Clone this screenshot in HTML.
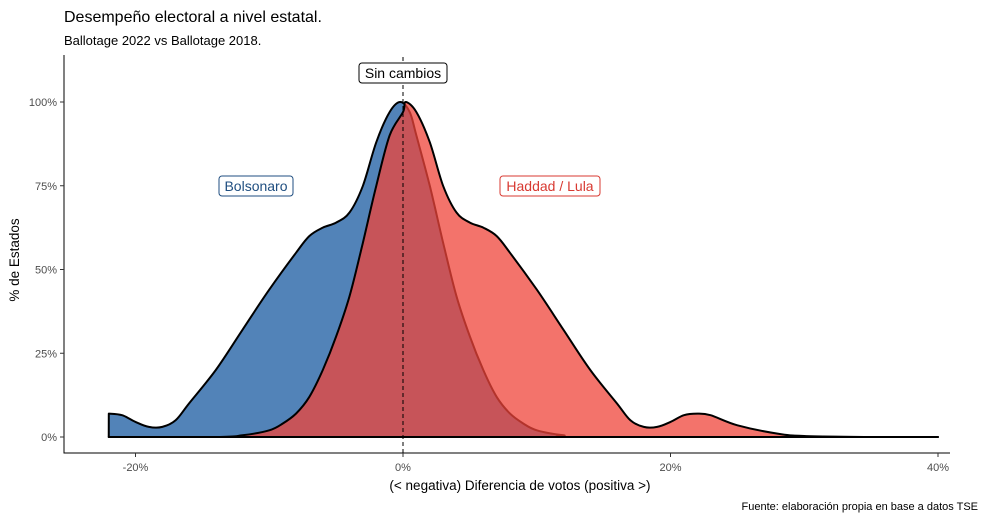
<!DOCTYPE html>
<html><head><meta charset="utf-8"><style>
body{margin:0;background:#fff;}
svg{display:block;font-family:"Liberation Sans",sans-serif;}
</style></head><body>
<svg id="chart" width="986" height="519" viewBox="0 0 986 519">
<text x="64" y="22" font-size="16" fill="#000">Desempeño electoral a nivel estatal.</text>
<text x="64" y="45" font-size="13" fill="#000">Ballotage 2022 vs Ballotage 2018.</text>
<g id="plot"></g>
<text x="520" y="490" font-size="13.5" text-anchor="middle" fill="#000">(&lt; negativa) Diferencia de votos (positiva &gt;)</text>
<text x="19" y="260" font-size="13.5" text-anchor="middle" fill="#000" transform="rotate(-90 19 260)">% de Estados</text>
<text x="978" y="510" font-size="11" text-anchor="end" fill="#000">Fuente: elaboración propia en base a datos TSE</text>
</svg>
<script>
const blueX=[-22,-21,-20,-19,-18,-17,-16,-14,-12,-10,-8,-7,-6,-5,-4,-3,-2,-1,-0.2,0.5,1,2,3,4,5,6,7,8,9,10,12,14,40];
const blueY=[7,6.5,4.5,3,3,5,10,20,32,44,55,60,62.5,64,67,75,88,97,100,97,90,75,58,42,30,20,12,7,4,2,0.5,0,0];
const redX=[-22,-14,-12,-10,-9,-8,-7,-6,-5,-4,-3,-2,-1,0,0.2,1,2,3,4,5,6,7,8,10,12,14,16,17,18,19,20,21,22,23,25,28,30,35,40];
const redY=[0,0,0.5,2,4,7,12,20,30,42,58,75,90,97,100,97,88,75,67,64,62.5,60,55,44,32,20,10,5,3,3,4.5,6.5,7,6.5,3.5,1,0.3,0,0];
const xTicks=[-20,0,20,40];
const yTicks=[0,25,50,75,100];
const xs=v=>403+v*13.375, ys=v=>437-v*3.35;
const ns="http://www.w3.org/2000/svg", g=document.getElementById('plot');
function mk(t,a){const e=document.createElementNS(ns,t);for(const k in a)e.setAttribute(k,a[k]);g.appendChild(e);return e;}
function area(X,Y){
 const P=X.map((x,i)=>[xs(x),ys(Y[i])]);
 let d='M'+P[0][0]+','+ys(0)+'L'+P[0][0].toFixed(1)+','+P[0][1].toFixed(1);
 for(let i=0;i<P.length-1;i++){
  const p0=P[Math.max(0,i-1)],p1=P[i],p2=P[i+1],p3=P[Math.min(P.length-1,i+2)];
  let c1y=p1[1]+(p2[1]-p0[1])/6, c2y=p2[1]-(p3[1]-p1[1])/6;
  const c1x=p1[0]+(p2[0]-p0[0])/6, c2x=p2[0]-(p3[0]-p1[0])/6;
  c1y=Math.min(c1y,ys(0)); c2y=Math.min(c2y,ys(0));
  d+='C'+c1x.toFixed(1)+','+c1y.toFixed(1)+' '+c2x.toFixed(1)+','+c2y.toFixed(1)+' '+p2[0].toFixed(1)+','+p2[1].toFixed(1);
 }
 return d+'L'+P[P.length-1][0]+','+ys(0)+'Z';
}
const b=mk('path',{d:area(blueX,blueY),fill:'#5283b8',stroke:'#000','stroke-width':2,'stroke-linejoin':'round'});


const r=mk('path',{d:area(redX,redY),fill:'#ef443a','fill-opacity':0.75,stroke:'#000','stroke-width':2,'stroke-linejoin':'round'});


const ax=mk('path',{d:'M64,55V453H950',fill:'none',stroke:'#000','stroke-width':1});


xTicks.forEach(t=>{
 const l=mk('line',{x1:xs(t),x2:xs(t),y1:453,y2:457,stroke:'#333'});
 
 
 const tx=mk('text',{x:xs(t),y:471,'font-size':11,'text-anchor':'middle',fill:'#4d4d4d'});tx.textContent=t+'%';
 
 
});
yTicks.forEach(t=>{
 const l=mk('line',{x1:60,x2:64,y1:ys(t),y2:ys(t),stroke:'#333'});
 
 
 const tx=mk('text',{x:57,y:ys(t)+4,'font-size':11,'text-anchor':'end',fill:'#4d4d4d'});tx.textContent=t+'%';
 
 
});
const dl=mk('line',{x1:xs(0),x2:xs(0),y1:57,y2:453,stroke:'#000','stroke-dasharray':'4,3'});


function label(x,y,w,txt,col,name){
 const rc=mk('rect',{x:x-w/2,y:y-10,width:w,height:20,rx:3,fill:'#fff',stroke:col});
 
 
 const t=mk('text',{x:x,y:y+5,'font-size':14,'text-anchor':'middle',fill:col});t.textContent=txt;
 
 
}
label(403,73,88,'Sin cambios','#000','sin-cambios-label');
label(256,186,74,'Bolsonaro','#1f4e80','bolsonaro-label');
label(550,186,100,'Haddad / Lula','#d83a32','lula-label');
</script>
</body></html>
